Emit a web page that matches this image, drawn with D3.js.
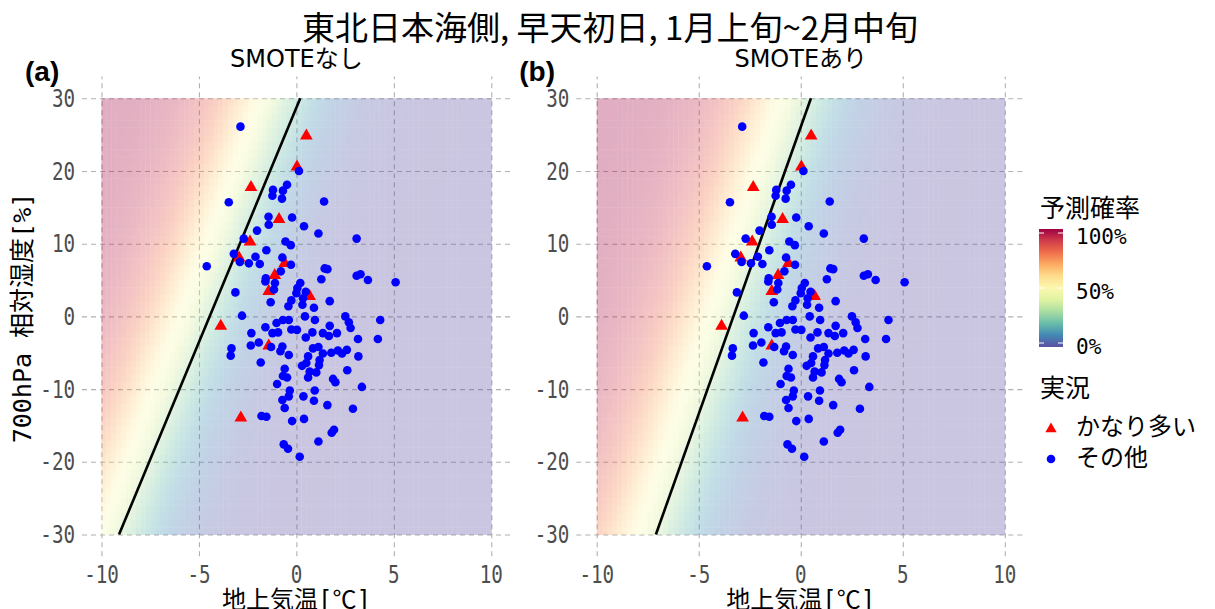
<!DOCTYPE html>
<html><head><meta charset="utf-8">
<script src="https://cdn.jsdelivr.net/npm/d3@7"></script>
<style>body{margin:0;background:#fff} svg{display:block}</style>
</head><body><svg id="c" width="1215" height="609"></svg>
<script>
// ---------- data ----------
const chartTitle = "東北日本海側, 早天初日, 1月上旬~2月中旬";
const panelTitles = ["SMOTEなし", "SMOTEあり"];
const panelTags = ["(a)", "(b)"];
const xTicks = [-10, -5, 0, 5, 10];
const yTicks = [-30, -20, -10, 0, 10, 20, 30];
const probTicks = [0, 0.5, 1];
const probTickLabels = ["0%", "50%", "100%"];
const legendNames = ["かなり多い", "その他"];

// 実況: かなり多い (temperature, RH)
const heavyT  = [0.51, 0.03, -2.33, -0.89, -2.38, -2.94, -0.60, -1.11, -1.42, 0.68, -3.88, -1.42, -2.85];
const heavyRH = [24.97, 20.7, 17.9, 13.5, 10.4, 8.2, 7.45, 5.8, 3.6, 2.9, -1.2, -3.9, -13.8];

// 実況: その他
const otherT = [
 -2.87, 0.13, -0.48, -1.20, -0.69, -1.23, -0.74, -3.47, 1.42, -1.43, -0.22, -1.42, 0.39, -2.02, 1.13, 3.09,
 -2.70, -0.56, -0.29, -1.54, -3.21, -2.90, -2.10, -2.44, -1.88, -0.72, -0.28, -4.60, -0.80, -1.57, -1.59, -1.10,
 -1.15, 1.45, 1.59, 1.28, 3.09, 3.29, 3.67, 5.09, 0.20, 0.05, 0.48, 0.00, 0.34, -0.26, -3.13, -1.32, 1.71, -0.41,
 0.31, 0.90, -2.79, 0.44, 2.51,
 4.30, -0.69, -0.39, 0.95, -1.02, 2.69, 1.71, -1.59, 2.78, -0.26, 0.03, -1.23, -0.94, -2.31, 0.82, 1.36, 1.67,
 2.08, 0.48, 3.16, 4.18, -1.93, -2.34, -1.30, -0.72, -3.33, -3.37, 0.85, 1.13, 1.79, 2.13, 2.59, 2.34, 1.36,
 -0.82, -0.39, 0.60, 3.18, 1.19, -1.83, 0.51, 0.29, 1.16, -0.60, 2.61, 0.68, 1.02, -0.69, 0.60, -0.48, 1.88,
 2.00, -0.99, 3.36, -0.34, 0.94, -0.39, 0.36, -0.72, 0.90, 1.59, -0.60, 2.90, -1.79, -1.54, 0.39, -0.22, 1.93,
 1.81, 1.13, -0.65, -0.43, 0.17
];
const otherRH = [
 26.1, 20.0, 18.1, 17.4, 17.3, 16.6, 16.2, 15.7, 15.8, 13.7, 13.6, 12.6, 12.4, 11.8, 11.4, 10.7,
 10.7, 10.3, 9.8, 9.1, 8.6, 7.5, 8.2, 7.3, 7.2, 8.1, 7.1, 6.9, 6.2, 5.25, 4.8, 4.6,
 3.7, 6.6, 6.5, 5.1, 5.6, 5.8, 5.0, 4.7, 4.6, 3.9, 3.4, 3.2, 2.5, 2.2, 3.3, 1.95, 2.1, 1.4,
 1.6, 1.2, 0.1, 0.0, 0.0,
 -0.5, -0.5, -0.5, -0.5, -0.9, -0.8, -1.3, -1.5, -1.6, -1.8, -1.85, -2.3, -2.2, -2.3, -2.2, -2.3, -2.7,
 -2.3, -2.9, -3.1, -3.1, -3.6, -4.0, -4.2, -4.15, -4.4, -5.4, -4.4, -4.2, -5.0, -4.7, -4.6, -5.1, -5.1,
 -4.8, -5.3, -5.5, -5.5, -6.0, -6.35, -6.4, -6.8, -6.7, -7.2, -7.4, -7.6, -7.7, -8.2, -8.4, -8.4, -8.6,
 -9.05, -9.3, -9.7, -10.2, -10.2, -11.0, -11.0, -11.5, -11.6, -12.2, -12.6, -12.7, -13.7, -13.8, -14.1, -14.4, -15.6,
 -16.0, -17.2, -17.6, -18.2, -19.3
];

// 予測確率 background: logistic model coefficients
// 50% temperature = intercept + slope * RH ; steepness per degC
const modelIntercept = [-6.0, -4.55];
const modelSlope = [0.136, 0.116];
const modelSteep = [0.65, 0.65];

// black boundary line endpoints (temperature at RH = 30 and RH = -30)
const boundaryRH = [30, -30];
const boundaryT = [[0.2, -9.1], [0.5, -7.1]];

// ---------- layout ----------
const svg = d3.select("#c");
const MONO = "'DejaVu Sans Mono','Noto Sans CJK JP',monospace";
const JP = "'Noto Sans CJK JP','Noto Sans',sans-serif";
const SANSJP = "'DejaVu Sans','Noto Sans CJK JP',sans-serif";
const panels = [
  {x0: 82, x1: 510.8},
  {x0: 576.3, x1: 1025.2}
];
const yTop = 76.5, yBot = 556.3;

svg.append("text").attr("x", 610).attr("y", 40).attr("text-anchor", "middle")
  .attr("font-family", JP).attr("font-size", 33).attr("fill", "#000").text(chartTitle);

function condensed(sel, sx) {
  return sel.attr("transform", function () {
    const x = +this.getAttribute("data-x"), y = +this.getAttribute("data-y");
    return `translate(${x},${y}) scale(${sx},1)`;
  });
}

panels.forEach((p, i) => {
  const x = d3.scaleLinear().domain([-11, 11]).range([p.x0, p.x1]);
  const y = d3.scaleLinear().domain([-33, 33]).range([yBot, yTop]);
  const g = svg.append("g");

  // grid
  const gx = g.append("g").attr("transform", `translate(0,${yBot})`)
    .call(d3.axisBottom(x).tickValues(xTicks).tickSize(-(yBot - yTop)).tickFormat(""));
  const gy = g.append("g").attr("transform", `translate(${p.x0},0)`)
    .call(d3.axisLeft(y).tickValues(yTicks).tickSize(-(p.x1 - p.x0)).tickFormat(""));
  [gx, gy].forEach(a => {
    a.select(".domain").remove();
    a.selectAll("line").attr("stroke", "#b0b0b0").attr("stroke-width", 1.1).attr("stroke-dasharray", "5,4");
  });

  // raster
  const dT = 0.25, dR = 1;
  const cells = [];
  for (let t = -10 + dT / 2; t < 10; t += dT) {
    for (let r = -30 + dR / 2; r < 30; r += dR) {
      const t50 = modelIntercept[i] + modelSlope[i] * r;
      const prob = 1 / (1 + Math.exp(-modelSteep[i] * (t50 - t)));
      cells.push({t, r, prob});
    }
  }
  const cw = Math.abs(x(dT) - x(0)), ch = Math.abs(y(0) - y(dR));
  g.append("g").attr("opacity", 0.32).selectAll("rect").data(cells).join("rect")
    .attr("x", d => x(d.t - dT / 2)).attr("y", d => y(d.r + dR / 2))
    .attr("width", cw + 0.4).attr("height", ch + 0.4)
    .attr("fill", d => d3.interpolateSpectral(1 - d.prob));

  // boundary line
  g.append("line")
    .attr("x1", x(boundaryT[i][0])).attr("y1", y(boundaryRH[0]))
    .attr("x2", x(boundaryT[i][1])).attr("y2", y(boundaryRH[1]))
    .attr("stroke", "#000").attr("stroke-width", 2.6);

  // points
  const tri = d3.symbol().type(d3.symbolTriangle).size(70);
  g.append("g").selectAll("path").data(heavyT.map((t, k) => [t, heavyRH[k]])).join("path")
    .attr("d", tri).attr("transform", d => `translate(${x(d[0])},${y(d[1]) + 1})`)
    .attr("fill", "#ff0000");
  g.append("g").selectAll("circle").data(otherT.map((t, k) => [t, otherRH[k]])).join("circle")
    .attr("cx", d => x(d[0])).attr("cy", d => y(d[1])).attr("r", 4.3).attr("fill", "#0000ff");

  // tick labels (condensed mono)
  condensed(g.append("g").selectAll("text").data(xTicks).join("text")
    .attr("data-x", d => x(d)).attr("data-y", 583).attr("text-anchor", "middle")
    .attr("font-family", MONO).attr("font-size", 24).attr("fill", "#4d4d4d").text(d => d), 0.8);
  condensed(g.append("g").selectAll("text").data(yTicks).join("text")
    .attr("data-x", p.x0 - 7).attr("data-y", d => y(d)).attr("dy", "0.36em").attr("text-anchor", "end")
    .attr("font-family", MONO).attr("font-size", 24).attr("fill", "#4d4d4d").text(d => d), 0.8);

  // titles
  const cx = (p.x0 + p.x1) / 2;
  g.append("text").attr("x", cx).attr("y", 67).attr("text-anchor", "middle")
    .attr("font-family", SANSJP).attr("font-size", 24).attr("fill", "#000").text(panelTitles[i]);
  g.append("text").attr("x", p.x0 - 57).attr("y", 81)
    .attr("font-family", "'Liberation Sans',Arial,sans-serif").attr("font-weight", "bold")
    .attr("font-size", 28).attr("fill", "#000").text(panelTags[i]);
  g.append("text").attr("x", cx).attr("y", 608).attr("text-anchor", "middle")
    .attr("font-family", MONO).attr("font-size", 24).attr("fill", "#000").text("地上気温[℃]");
});

// y axis title
svg.append("text").attr("transform", `translate(31,318) rotate(-90)`).attr("text-anchor", "middle")
  .attr("font-family", MONO).attr("font-size", 25).attr("fill", "#000").text("700hPa 相対湿度[%]");

// ---------- legend ----------
const lg = svg.append("g");
lg.append("text").attr("x", 1040).attr("y", 217).attr("font-family", JP).attr("font-size", 25).text("予測確率");
const defs = svg.append("defs");
const grad = defs.append("linearGradient").attr("id", "sp").attr("x1", 0).attr("x2", 0).attr("y1", 1).attr("y2", 0);
d3.range(0, 1.0001, 0.1).forEach(v => grad.append("stop").attr("offset", v).attr("stop-color", d3.interpolateSpectral(1 - v)));
const py = d3.scaleLinear().domain([0, 1]).range([343, 233]);
lg.append("rect").attr("x", 1039).attr("y", 229).attr("width", 24).attr("height", 118).attr("fill", "url(#sp)");
probTicks.forEach((v, k) => {
  [[1039, 1044], [1058, 1063]].forEach(s => lg.append("line").attr("x1", s[0]).attr("x2", s[1])
    .attr("y1", py(v)).attr("y2", py(v)).attr("stroke", "#fff").attr("stroke-width", 1));
  lg.append("text").attr("x", 1076).attr("y", py(v) + 3).attr("dy", "0.36em")
    .attr("font-family", MONO).attr("font-size", 21).attr("fill", "#000").text(probTickLabels[k]);
});
lg.append("text").attr("x", 1040).attr("y", 397).attr("font-family", JP).attr("font-size", 25).text("実況");
lg.append("path").attr("d", d3.symbol().type(d3.symbolTriangle).size(55)).attr("transform", "translate(1051,429)").attr("fill", "#ff0000");
lg.append("circle").attr("cx", 1051).attr("cy", 459).attr("r", 4.3).attr("fill", "#0000ff");
lg.append("text").attr("x", 1076).attr("y", 426).attr("dy", "0.36em").attr("font-family", JP).attr("font-size", 24).text(legendNames[0]);
lg.append("text").attr("x", 1076).attr("y", 457).attr("dy", "0.36em").attr("font-family", JP).attr("font-size", 24).text(legendNames[1]);
</script></body></html>
